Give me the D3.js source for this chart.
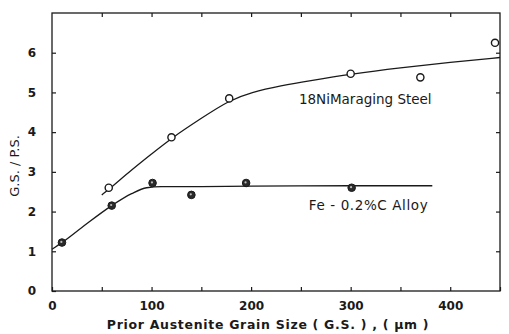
<!DOCTYPE html>
<html><head><meta charset="utf-8">
<script src="https://cdn.jsdelivr.net/npm/d3@7"></script>
<style>
body{margin:0;background:#fff;}
text{font-family:"DejaVu Sans",sans-serif;fill:#1a1a1a;}
</style></head>
<body><svg id="c" width="509" height="334"></svg>
<script>
// Data
const steelX = [57, 120, 178, 300, 370, 445];
const steelY = [2.6, 3.87, 4.85, 5.47, 5.38, 6.25];
const feX = [10, 60, 101, 140, 195, 301];
const feY = [1.22, 2.15, 2.72, 2.42, 2.72, 2.6];
// Hand-drawn fit curves
const steelCurveX = [50, 60, 80, 100, 120, 150, 178, 200, 230, 260, 300, 350, 400, 450];
const steelCurveY = [2.42, 2.62, 3.05, 3.45, 3.85, 4.35, 4.8, 5.0, 5.17, 5.3, 5.46, 5.62, 5.76, 5.88];
const feCurveX = [0, 10, 30, 60, 80, 95, 110, 150, 200, 300, 382];
const feCurveY = [1.05, 1.22, 1.6, 2.15, 2.45, 2.6, 2.63, 2.63, 2.64, 2.65, 2.65];
const xTicks = [0, 100, 200, 300, 400];
const xMinor = [50, 150, 250, 350, 450];
const yTicks = [0, 1, 2, 3, 4, 5, 6];
const labels = {x: "Prior Austenite Grain Size ( G.S. )  ,  ( μm )", y: "G.S. / P.S.",
  steel: "18NiMaraging Steel", fe: "Fe - 0.2%C Alloy"};

const svg = d3.select("#c");
const L = 52, R = 500, T = 13, B = 291;
const x = d3.scaleLinear().domain([0, 450]).range([L, R]);
const y = d3.scaleLinear().domain([0, 7]).range([B, T]);
const ink = "#1a1a1a";

// frame
svg.append("rect").attr("x", L).attr("y", T).attr("width", R - L).attr("height", B - T)
  .attr("fill", "none").attr("stroke", ink).attr("stroke-width", 1.3);

// axes with inward ticks
const allX = xTicks.concat(xMinor).sort((a,b)=>a-b);
const bx = svg.append("g").attr("transform", `translate(0,${B})`)
  .call(d3.axisBottom(x).tickValues(allX).tickSize(-4).tickFormat(d => xTicks.includes(d) ? d3.format("d")(d) : "").tickPadding(10));
const tx = svg.append("g").attr("transform", `translate(0,${T})`)
  .call(d3.axisTop(x).tickValues(allX.filter(d=>d>0 && d<450)).tickSize(-4).tickFormat(""));
const ly = svg.append("g").attr("transform", `translate(${L},0)`)
  .call(d3.axisLeft(y).tickValues(yTicks).tickSize(-4).tickFormat(d3.format("d")).tickPadding(16));
const ry = svg.append("g").attr("transform", `translate(${R},0)`)
  .call(d3.axisRight(y).tickValues(yTicks.filter(d=>d>0)).tickSize(-4).tickFormat(""));
[bx, tx, ly, ry].forEach(g => {
  g.select(".domain").remove();
  g.selectAll("line").attr("stroke", ink).attr("stroke-width", 1.2);
  g.selectAll("text").attr("font-size", 12).attr("font-weight", "bold")
    .style("font-family", "DejaVu Sans, sans-serif").attr("fill", ink);
});

// curves
function drawCurve(xs, ys, curve) {
  const pts = xs.map((d, i) => [x(d), y(ys[i])]);
  svg.append("path").attr("d", d3.line().curve(curve)(pts)).attr("fill", "none")
    .attr("stroke", ink).attr("stroke-width", 1.3);
}
drawCurve(steelCurveX, steelCurveY, d3.curveBasis);
drawCurve(feCurveX, feCurveY, d3.curveMonotoneX);

// markers
svg.selectAll(".s").data(steelX).enter().append("circle")
  .attr("cx", d => x(d)).attr("cy", (d, i) => y(steelY[i])).attr("r", 3.6)
  .attr("fill", "#fff").attr("stroke", ink).attr("stroke-width", 1.4);
svg.selectAll(".f").data(feX).enter().append("circle")
  .attr("cx", d => x(d)).attr("cy", (d, i) => y(feY[i])).attr("r", 3.8)
  .attr("fill", "#2a2a2a").attr("stroke", ink).attr("stroke-width", 1);
svg.selectAll(".fi").data(feX).enter().append("circle")
  .attr("cx", d => x(d) - 0.6).attr("cy", (d, i) => y(feY[i]) - 0.6).attr("r", 1.1)
  .attr("fill", "#bbb");

// annotations
svg.append("text").attr("x", x(248)).attr("y", y(4.7)).attr("font-size", 13.5)
  .text(labels.steel);
svg.append("text").attr("x", x(258)).attr("y", y(2.03)).attr("font-size", 13.5)
  .attr("letter-spacing", 0.6).text(labels.fe);

// axis titles
svg.append("text").attr("x", 268).attr("y", 329).attr("text-anchor", "middle")
  .attr("font-size", 12.5).attr("letter-spacing", 0.7).attr("font-weight", "bold").text(labels.x);
svg.append("text").attr("transform", "translate(19,166) rotate(-90)")
  .attr("text-anchor", "middle").attr("font-size", 13).text(labels.y);
</script></body></html>
